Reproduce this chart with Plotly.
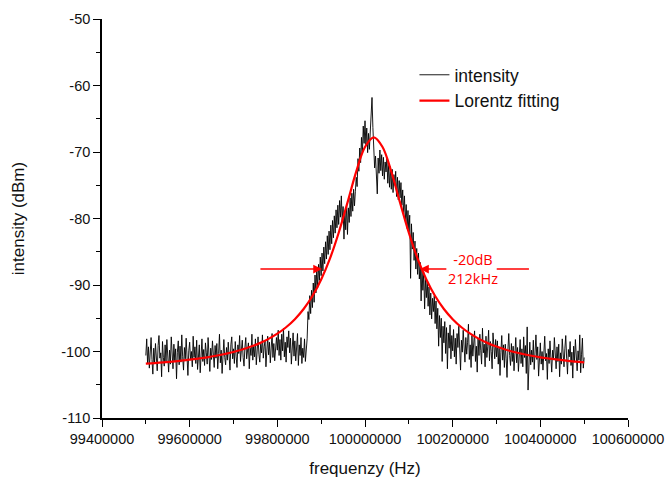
import numpy as np
import plotly.graph_objects as go

# ---- data ----
freq_start = 99500000
freq_step = 2000
intensity = [
    # 99.500 - 99.698 MHz
    -100.6, -98.1, -101.8, -99.3, -102.5, -100.0, -97.9, -101.2, -103.4, -99.5,
    -101.7, -98.8, -100.4, -102.9, -99.1, -97.6, -101.0, -100.2, -103.8, -98.5,
    -100.9, -102.2, -99.0, -101.5, -98.2, -100.7, -103.1, -99.8, -101.9, -97.8,
    -100.3, -102.6, -98.9, -101.4, -99.6, -104.1, -100.1, -98.4, -102.0, -99.2,
    -101.6, -97.5, -100.8, -102.8, -99.4, -101.1, -98.0, -100.5, -103.6, -99.9,
    -98.6, -101.3, -100.0, -102.3, -97.7, -100.9, -99.3, -101.8, -98.3, -102.7,
    -100.4, -99.0, -103.2, -100.6, -98.1, -101.5, -99.7, -102.1, -98.7, -100.2,
    -101.9, -97.9, -100.7, -103.0, -99.5, -101.2, -98.4, -100.0, -102.4, -99.1,
    -101.0, -98.8, -102.6, -100.3, -97.4, -101.7, -99.8, -103.3, -100.5, -98.2,
    -100.9, -102.0, -99.4, -101.3, -98.6, -100.1, -102.8, -99.0, -97.8, -101.1,
    # 99.700 - 99.798
    -99.6, -101.8, -98.5, -100.7, -102.4, -99.0, -100.3, -97.6, -101.5, -99.8,
    -98.3, -100.9, -102.2, -99.4, -97.9, -101.1, -100.0, -98.7, -102.6, -99.5,
    -100.6, -97.4, -101.3, -99.2, -100.8, -98.1, -102.0, -99.7, -97.8, -100.4,
    -101.6, -98.9, -100.2, -97.5, -101.0, -99.3, -98.4, -102.3, -99.9, -97.7,
    -100.5, -98.6, -101.7, -99.1, -97.3, -100.9, -98.8, -101.4, -99.6, -97.9,
    # 99.800 - 99.866
    -99.8, -96.8, -100.6, -98.2, -101.3, -97.4, -99.9, -96.5, -100.8, -98.6,
    -101.6, -97.8, -99.4, -96.9, -100.2, -98.0, -101.9, -99.1, -97.2, -100.7,
    -98.4, -101.4, -99.8, -97.3, -102.1, -99.0, -100.6, -97.9, -101.8, -99.5,
    -100.9, -98.1, -101.5, -99.7,
    # 99.868 - 99.898 (steep rise)
    -98.1, -94.0, -95.2, -91.6, -94.3, -90.8, -93.4, -89.7, -92.6, -88.5,
    -91.2, -87.6, -90.4, -86.9, -89.3, -85.8,
    # 99.900 - 99.938
    -88.6, -85.2, -87.9, -84.3, -86.8, -83.5, -86.1, -82.6, -85.4, -81.9,
    -84.7, -81.0, -83.8, -80.3, -82.9, -79.6, -82.2, -78.7, -81.4, -78.0,
    # 99.940 - 99.998
    -80.9, -77.3, -79.8, -76.6, -80.5, -78.2, -83.1, -79.0, -81.7, -77.8,
    -82.4, -78.4, -80.6, -76.9, -79.7, -76.2, -78.9, -75.6, -78.1, -75.9,
    -73.8, -75.2, -71.0, -72.9, -69.4, -71.6, -67.8, -70.3, -66.1, -68.7,
    # 100.000 - 100.058 (peak)
    -65.3, -68.9, -66.4, -70.1, -67.2, -69.6, -66.8, -64.0, -61.8, -66.3,
    -68.5, -72.4, -70.6, -74.8, -76.3, -70.9, -73.2, -69.7, -72.8, -70.4,
    -73.6, -70.8, -74.1, -71.5, -73.0, -70.9, -74.7, -72.0, -75.3, -72.2,
    # 100.060 - 100.198 (falling side)
    -75.6, -72.6, -76.1, -73.4, -75.0, -72.9, -76.7, -73.8, -77.2, -74.3,
    -76.9, -74.6, -78.0, -75.7, -79.3, -76.6, -80.4, -77.9, -81.5, -78.8,
    -82.0, -79.5, -89.0, -80.8, -84.6, -82.1, -86.3, -83.4, -87.6, -84.5,
    -88.4, -85.2, -89.1, -86.6, -92.4, -87.5, -90.8, -88.1, -93.6, -89.0,
    -91.9, -89.4, -93.2, -90.3, -94.5, -91.2, -95.1, -92.0, -94.0, -91.6,
    -95.8, -92.4, -96.6, -93.5, -99.2, -94.6, -97.9, -95.0, -101.5, -96.2,
    -98.7, -95.5, -100.3, -96.4, -102.6, -97.2, -99.5, -96.0, -101.1, -97.6,
    # 100.200 - 100.298
    -99.9, -96.7, -100.8, -98.0, -101.9, -97.3, -99.4, -96.2, -100.6, -102.8,
    -98.3, -100.1, -96.8, -99.7, -101.6, -97.9, -100.4, -98.6, -95.9, -101.2,
    -99.0, -102.4, -97.6, -100.7, -98.4, -96.9, -101.5, -99.2, -103.1, -98.1,
    -100.6, -97.4, -99.8, -101.9, -96.5, -100.2, -98.9, -102.3, -97.7, -100.9,
    -99.3, -96.8, -101.4, -98.5, -100.0, -102.6, -97.2, -99.6, -101.1, -98.2,
    # 100.300 - 100.398
    -100.8, -98.4, -101.9, -99.5, -103.6, -100.1, -97.6, -101.3, -99.0, -102.4,
    -98.9, -101.0, -103.9, -99.7, -97.3, -100.6, -102.1, -98.8, -101.5, -99.2,
    -102.9, -100.3, -97.9, -101.7, -99.4, -103.0, -100.5, -98.2, -101.8, -99.6,
    -102.3, -97.8, -100.9, -99.1, -103.3, -96.3, -105.8, -100.4, -98.6, -102.0,
    -99.8, -101.6, -98.3, -102.7, -100.2, -97.5, -101.2, -99.3, -103.7, -100.7,
    # 100.400 - 100.500
    -98.7, -101.9, -100.0, -102.8, -99.1, -97.7, -101.4, -100.3, -104.2, -99.6,
    -101.8, -98.4, -100.9, -103.1, -99.8, -101.2, -97.9, -100.5, -102.6, -99.3,
    -101.5, -98.9, -103.8, -100.2, -101.9, -98.1, -100.7, -102.3, -99.5, -97.6,
    -101.0, -103.4, -99.7, -100.8, -98.5, -102.1, -100.1, -104.0, -99.2, -101.6,
    -98.2, -100.6, -102.9, -99.9, -101.3, -97.5, -103.2, -100.4, -98.0, -102.5, -100.9,
]
fit_start = 99500000
fit_step = 20000
lorentz = [
    -101.83, -101.74, -101.63, -101.52, -101.38, -101.23, -101.06, -100.87, -100.64, -100.37,
    -100.07, -99.70, -99.26, -98.74, -98.10, -97.32, -96.35, -95.14, -93.61, -91.66,
    -89.17, -86.03, -82.14, -77.62, -72.96, -69.25, -67.80, -69.25, -72.96, -77.62,
    -82.14, -86.03, -89.17, -91.66, -93.61, -95.14, -96.35, -97.32, -98.10, -98.74,
    -99.26, -99.70, -100.07, -100.37, -100.64, -100.87, -101.06, -101.23, -101.38, -101.52,
    -101.63,
]
x_ticks = [99400000, 99600000, 99800000, 100000000, 100200000, 100400000, 100600000]
x_tick_labels = ["99400000", "99600000", "99800000", "100000000", "100200000", "100400000", "100600000"]
y_ticks = [-110, -100, -90, -80, -70, -60, -50]
y_tick_labels = ["-110", "-100", "-90", "-80", "-70", "-60", "-50"]
level_db = -87.6
left_cross, left_tail = 99902000, 99758000
right_cross, right_tail = 100125500, 100189000
right_line = [100300500, 100374000]
label_x = 100245700
label_text = "-20dB<br>212kHz"

freq = freq_start + freq_step * np.arange(len(intensity))
fit_freq = fit_start + fit_step * np.arange(len(lorentz))

RED = "#ff0000"
fig = go.Figure()
fig.add_trace(go.Scatter(x=freq, y=intensity, mode="lines", name="intensity",
                         line=dict(color="black", width=0.9)))
fig.add_trace(go.Scatter(x=fit_freq, y=lorentz, mode="lines", name="Lorentz fitting",
                         line=dict(color=RED, width=2.2, shape="spline")))

fig.add_annotation(x=left_cross, y=level_db, ax=left_tail, ay=level_db,
                   xref="x", yref="y", axref="x", ayref="y", text="",
                   showarrow=True, arrowhead=2, arrowsize=1.1, arrowwidth=1.6, arrowcolor=RED)
fig.add_annotation(x=right_cross, y=level_db, ax=right_tail, ay=level_db,
                   xref="x", yref="y", axref="x", ayref="y", text="",
                   showarrow=True, arrowhead=2, arrowsize=1.1, arrowwidth=1.6, arrowcolor=RED)
fig.add_shape(type="line", x0=right_line[0], x1=right_line[1], y0=level_db, y1=level_db,
              xref="x", yref="y", line=dict(color=RED, width=1.6))
fig.add_annotation(x=label_x, y=level_db, xref="x", yref="y", text=label_text,
                   showarrow=False, font=dict(family="Open Sans", size=14.5, color=RED),
                   align="center")

axis_font = dict(family="Liberation Sans, Arial", size=14.5, color="#111")
title_font = dict(family="Liberation Sans, Arial", size=17, color="#111")
fig.update_layout(
    width=670, height=482,
    margin=dict(l=102, r=42, t=19, b=64),
    paper_bgcolor="white", plot_bgcolor="white",
    showlegend=True,
    legend=dict(x=0.594, y=0.905, xanchor="left", yanchor="top",
                font=dict(family="Liberation Sans, Arial", size=17.5, color="#111"),
                bgcolor="rgba(0,0,0,0)", tracegroupgap=0),
    font=dict(family="Liberation Sans, Arial", color="#111"),
)
fig.update_xaxes(range=[99400000, 100600000], tickvals=x_ticks, ticktext=x_tick_labels,
                 automargin=False,
                 showgrid=False, zeroline=False, showline=True, linecolor="black", linewidth=1.6,
                 ticks="outside", ticklen=7, tickwidth=1.3, tickcolor="black", tickfont=axis_font,
                 minor=dict(dtick=100000, ticks="outside", ticklen=4, tickwidth=1.3, tickcolor="black"),
                 title=dict(text="frequenzy (Hz)", font=title_font, standoff=16))
fig.update_yaxes(range=[-110, -50], tickvals=y_ticks, ticktext=y_tick_labels,
                 automargin=False,
                 showgrid=False, zeroline=False, showline=True, linecolor="black", linewidth=1.6,
                 ticks="outside", ticklen=7, tickwidth=1.3, tickcolor="black", tickfont=axis_font,
                 minor=dict(dtick=5, ticks="outside", ticklen=4, tickwidth=1.3, tickcolor="black"),
                 title=dict(text="intensity (dBm)", font=title_font, standoff=32))

fig.write_html("out.html", config={"displayModeBar": False},
               post_script="document.body.style.margin='0';")
